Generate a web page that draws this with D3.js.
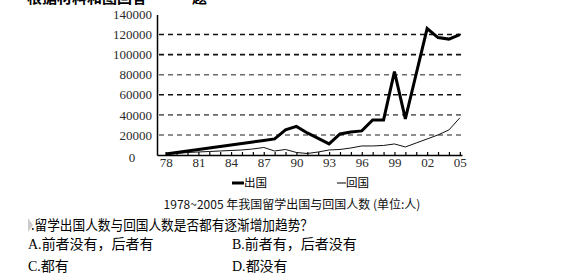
<!DOCTYPE html>
<html>
<head>
<meta charset="utf-8">
<script src="https://cdn.jsdelivr.net/npm/d3@7"></script>
<style>
    body { margin: 0; background: #fff; }
    svg { display: block; }
</style>
</head>
<body>
<svg></svg>
<script>

const SERIF = "'Liberation Serif', 'DejaVu Serif', serif"
const CJK = "'Noto Sans CJK SC', 'Noto Sans', sans-serif"

// years 1978 ~ 2005
const years = d3.range(1978, 2006)

// 出国 (thick line)
const outValues = [
    1000, 2500, 4000, 5500, 7000, 8500, 10000, 11500, 13000, 14500,
    16000, 25000, 28500, 22000, 16500, 11000, 21000, 23000, 24000, 35000,
    35000, 83000, 36000, 81000, 126000, 117000, 115500, 120000
]

// 回国 (thin line)
const backValues = [
    300, 1500, 2500, 3000, 3500, 4000, 4500, 5000, 6000, 7500,
    4000, 5500, 2500, 1500, 3000, 5000, 5500, 7000, 9000, 9000,
    9500, 11000, 8000, 12000, 16000, 20000, 25000, 37000
]

const yTicks = [0, 20000, 40000, 60000, 80000, 100000, 120000, 140000]
const gridValues = [20000, 40000, 60000, 80000, 100000, 120000]
const darkGrid = [60000, 100000, 120000]
const xLabelYears = [1978, 1981, 1984, 1987, 1990, 1993, 1996, 1999, 2002, 2005]

const legendLabels = ["出国", "回国"]
const caption = "1978~2005 年我国留学出国与回国人数 (单位:人)"
const question = ".留学出国人数与回国人数是否都有逐渐增加趋势？"
const options = [
    ["A.", "前者没有，后者有"],
    ["B.", "前者有，后者没有"],
    ["C.", "都有"],
    ["D.", "都没有"]
]

const svg = d3.select("svg")
    .attr("width", 570)
    .attr("height", 279)

const x = d3.scaleLinear()
    .domain([1977.2, 2005.2])
    .range([157, 462])

const y = d3.scaleLinear()
    .domain([0, 140000])
    .range([155, 14.5])

// cut-off heading at the very top
svg.append("text")
    .attr("x", 27)
    .attr("y", 3)
    .style("font-family", CJK)
    .style("font-size", "15px")
    .style("font-weight", "bold")
    .text("根据材料和图回答　　　题")

// grid lines
svg.append("g")
    .selectAll("line")
    .data(gridValues)
    .enter()
    .append("line")
    .attr("x1", x.range()[0] + 2)
    .attr("x2", x.range()[1])
    .attr("y1", d => y(d))
    .attr("y2", d => y(d))
    .attr("stroke", d => darkGrid.includes(d) ? "#111" : "#6a6a6a")
    .attr("stroke-width", 1.6)
    .attr("stroke-dasharray", "5,4")

// y axis
const yAxis = svg.append("g")
    .attr("transform", `translate(${x.range()[0]},0)`)
    .call(d3.axisLeft(y).tickValues(yTicks).tickSize(0).tickPadding(5).tickFormat(d3.format("d")))

yAxis.attr("font-family", null).attr("font-size", null)
yAxis.select(".domain").attr("stroke", "#000").attr("stroke-width", 1.5)
yAxis.selectAll("text")
    .style("font-family", SERIF)
    .style("font-size", "13px")
    .attr("fill", "#2a2a2a")
yAxis.selectAll(".tick")
    .filter(d => d === 0)
    .select("text")
    .attr("x", -25)
    .attr("dy", "0.5em")
    .attr("text-anchor", "middle")

// x axis
const xAxis = svg.append("g")
    .attr("transform", `translate(0,${y(0)})`)
    .call(d3.axisBottom(x)
        .tickValues(years)
        .tickSizeInner(-3)
        .tickSizeOuter(0)
        .tickPadding(3)
        .tickFormat(d => xLabelYears.includes(d) ? String(d % 100).padStart(2, "0") : ""))

xAxis.attr("font-family", null).attr("font-size", null)
xAxis.select(".domain").attr("stroke", "#000").attr("stroke-width", 1.5)
xAxis.selectAll("line").attr("stroke", "#000").attr("stroke-width", 1.2)
xAxis.selectAll("text")
    .style("font-family", SERIF)
    .style("font-size", "13px")
    .attr("fill", "#2a2a2a")

// lines
const lineGen = d3.line()
    .x((d, i) => x(years[i]))
    .y(d => y(d))

svg.append("path")
    .datum(backValues)
    .attr("d", lineGen)
    .attr("fill", "none")
    .attr("stroke", "#111")
    .attr("stroke-width", 1)

svg.append("path")
    .datum(outValues)
    .attr("d", lineGen)
    .attr("fill", "none")
    .attr("stroke", "#000")
    .attr("stroke-width", 3)

// legend
const legend = svg.append("g")
    .attr("transform", "translate(0,183)")

legend.append("line")
    .attr("x1", 232).attr("x2", 244)
    .attr("stroke", "#000").attr("stroke-width", 3)
legend.append("text")
    .attr("x", 244).attr("dy", "0.36em")
    .style("font-family", CJK)
    .style("font-size", "11.5px")
    .text(legendLabels[0])

legend.append("line")
    .attr("x1", 337).attr("x2", 346)
    .attr("stroke", "#000").attr("stroke-width", 1)
legend.append("text")
    .attr("x", 346).attr("dy", "0.36em")
    .style("font-family", CJK)
    .style("font-size", "11.5px")
    .text(legendLabels[1])

// caption
svg.append("text")
    .attr("x", 292)
    .attr("y", 205)
    .attr("dy", "0.36em")
    .attr("text-anchor", "middle")
    .style("font-family", CJK)
    .style("font-size", "12px")
    .attr("fill", "#111")
    .text(caption)

// question
svg.append("path")
    .attr("d", "M28,218 L33,225 L28,232 Z")
    .attr("fill", "#ccc")

svg.append("text")
    .attr("x", 31)
    .attr("y", 230)
    .style("font-family", CJK)
    .style("font-size", "14px")
    .attr("textLength", 282)
    .attr("lengthAdjust", "spacingAndGlyphs")
    .text(question)

const optPos = [[28, 249], [232, 249], [28, 271], [232, 271]]

options.forEach((o, i) => {
    const t = svg.append("text")
        .attr("x", optPos[i][0])
        .attr("y", optPos[i][1])
        .style("font-size", "14px")
    t.append("tspan").style("font-family", SERIF).text(o[0])
    t.append("tspan").style("font-family", CJK).text(o[1])
})

</script>
</body>
</html>
